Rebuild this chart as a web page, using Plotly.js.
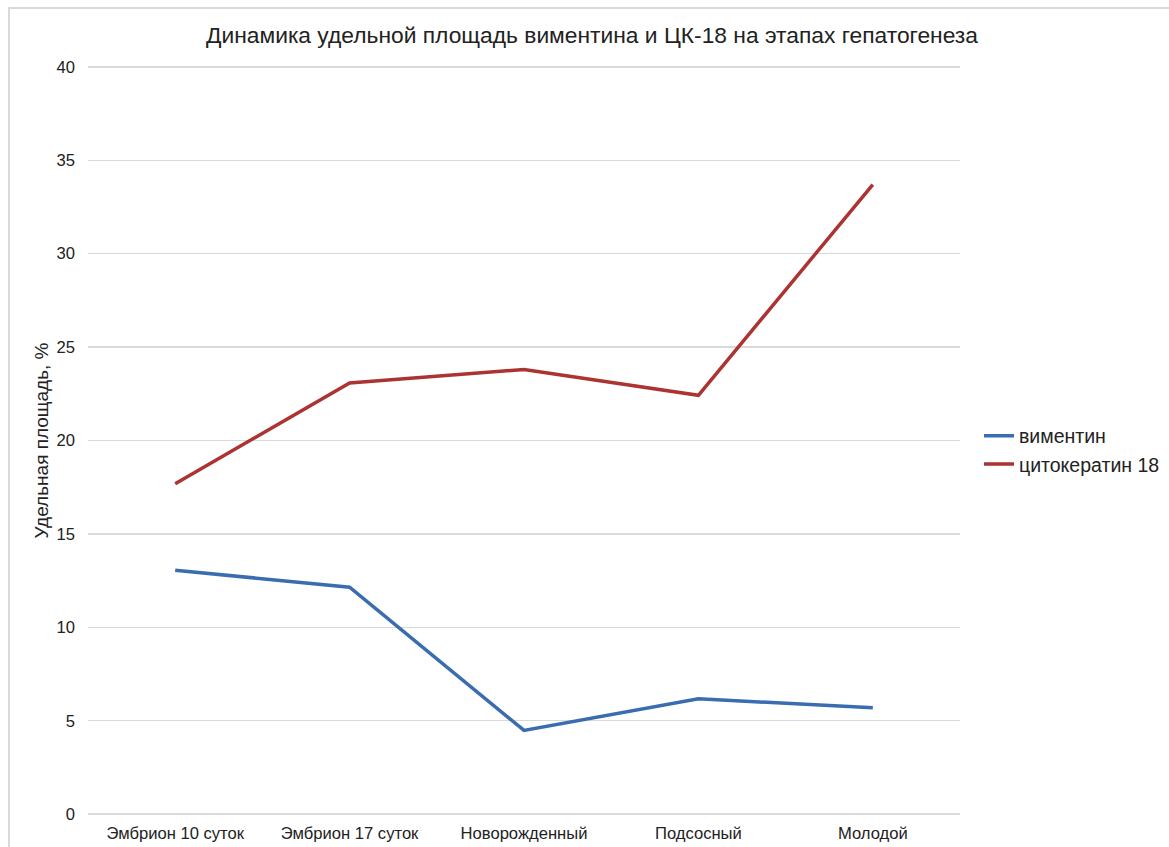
<!DOCTYPE html>
<html>
<head>
<meta charset="utf-8">
<script src="https://cdn.plot.ly/plotly-3.0.1.min.js"></script>
<style>
  html, body { margin: 0; padding: 0; background: #ffffff; }
  #wrap { position: relative; width: 1169px; height: 847px; }
  #chart { position: absolute; left: 0; top: 0; width: 1169px; height: 847px; }
  #frame { position: absolute; left: 8px; top: 7px; right: 0; bottom: 0;
           border-top: 2px solid #d9d9d9; border-left: 2px solid #d9d9d9;
           pointer-events: none; }
</style>
</head>
<body>
<div id="wrap">
  <div id="chart"></div>
  <div id="frame"></div>
</div>
<script>
// Developmental stages of the liver
const stages = ["Эмбрион 10 суток", "Эмбрион 17 суток", "Новорожденный", "Подсосный", "Молодой"];

// Specific area, %
const vimentin = [13.05, 12.15, 4.48, 6.17, 5.70];
const cytokeratin18 = [17.68, 23.08, 23.80, 22.42, 33.70];

const yTicks = [0, 5, 10, 15, 20, 25, 30, 35, 40];

const fontFamily = "Arial, 'Liberation Sans', Helvetica, sans-serif";

const traces = [
  {
    x: stages, y: vimentin, name: "виментин",
    type: "scatter", mode: "lines",
    line: { color: "#3a6cb0", width: 3.5 }
  },
  {
    x: stages, y: cytokeratin18, name: "цитокератин 18",
    type: "scatter", mode: "lines",
    line: { color: "#ad3333", width: 3.5 }
  }
];

// small padding around 0..40 so the outermost gridlines stay visible
const yPad = 0.1;

const layout = {
  width: 1169, height: 847,
  paper_bgcolor: "#ffffff", plot_bgcolor: "#ffffff",
  margin: { l: 88, r: 209, t: 65, b: 31, pad: 0 },
  font: { family: fontFamily, color: "#222222" },
  title: {
    text: "Динамика удельной площадь виментина и ЦК-18 на этапах гепатогенеза",
    font: { family: fontFamily, size: 22.8, color: "#222222" },
    x: 592 / 1169, xref: "container", xanchor: "center",
    y: 1 - 35 / 847, yref: "container", yanchor: "middle"
  },
  xaxis: {
    type: "category",
    range: [-0.5, 4.5],
    showgrid: false, zeroline: false, showline: false,
    ticks: "", tickfont: { size: 16.6, color: "#222222" },
    ticklabelstandoff: 5,
    automargin: false
  },
  yaxis: {
    range: [yTicks[0] - yPad, yTicks[yTicks.length - 1] + yPad],
    tickvals: yTicks,
    showgrid: true, gridcolor: "#d9d9d9", gridwidth: 1.5,
    zeroline: false, showline: false,
    ticks: "", tickfont: { size: 16.6, color: "#222222" },
    ticklabelstandoff: 12,
    automargin: false,
    title: {
      text: "Удельная площадь, %",
      font: { family: fontFamily, size: 19, color: "#222222" },
      standoff: 2
    }
  },
  showlegend: true,
  legend: {
    xref: "container", yref: "container",
    x: 979 / 1169, xanchor: "left",
    y: 1 - 450 / 847, yanchor: "middle",
    font: { family: fontFamily, size: 19.5, color: "#222222" },
    bgcolor: "rgba(0,0,0,0)",
    itemwidth: 30,
    tracegroupgap: 0
  }
};

Plotly.newPlot("chart", traces, layout, { displayModeBar: false, staticPlot: true });
</script>
</body>
</html>
